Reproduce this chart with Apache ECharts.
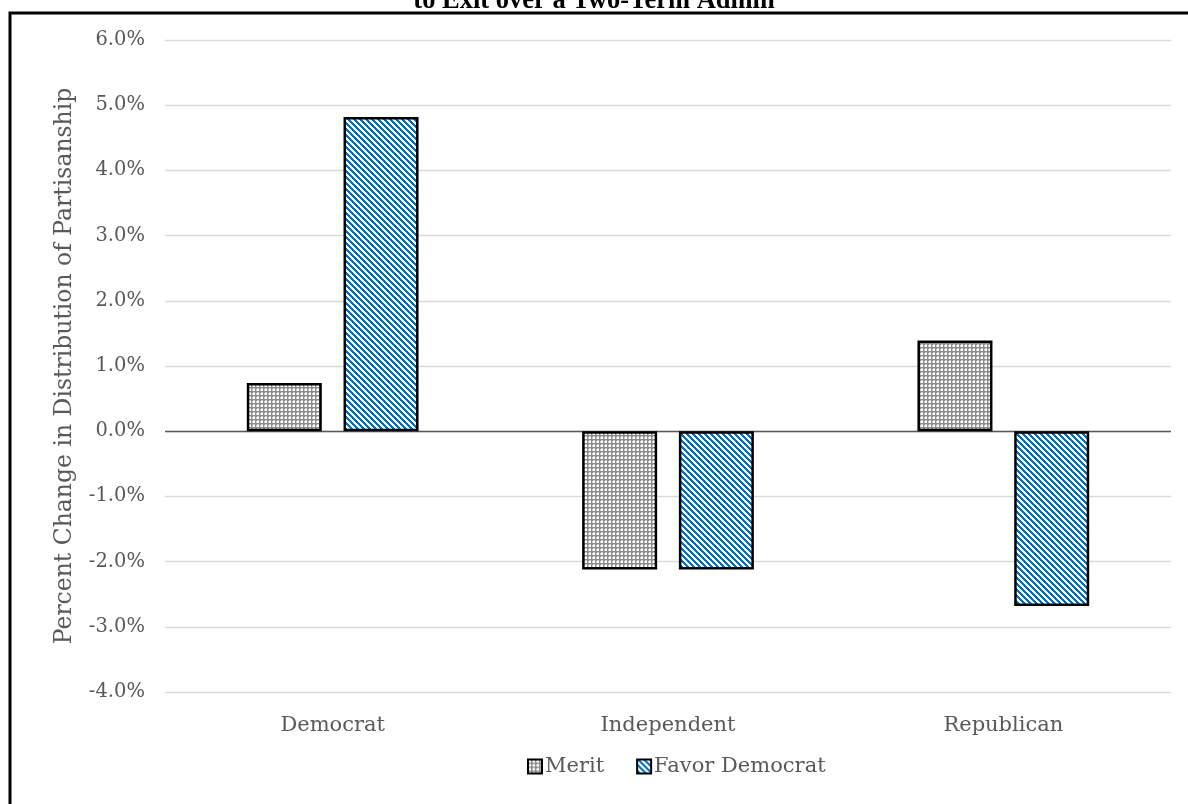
<!DOCTYPE html>
<html>
<head>
<meta charset="utf-8">
<script src="https://cdn.jsdelivr.net/npm/echarts@6/dist/echarts.min.js"></script>
<style>
  html, body { margin: 0; padding: 0; background: #fff; }
  #chart { width: 1188px; height: 804px; }
</style>
</head>
<body>
<div id="chart"></div>
<script>
// Party categories and the two policy scenarios (percent change)
const categories = ['Democrat', 'Independent', 'Republican'];
const meritValues = [0.74, -2.12, 1.39];
const favorDemocratValues = [4.82, -2.12, -2.68];
const seriesNames = ['Merit', 'Favor Democrat'];
const titleText = 'to Exit over a Two-Term Admin';
const yAxisName = 'Percent Change in Distribution of Partisanship';

const FONT = "'DejaVu Serif', 'Liberation Serif', serif";
const TEXT_GREY = '#595959';

// Fine dotted-grid fill used for the Merit bars
function gridPattern() {
  const c = document.createElement('canvas');
  c.width = 4; c.height = 4;
  const g = c.getContext('2d');
  g.fillStyle = '#8c8c8c';
  g.fillRect(0, 0, 4, 4);
  g.fillStyle = '#ffffff';
  g.fillRect(1, 1, 2, 2);
  g.fillStyle = '#cfcfcf';
  g.fillRect(1, 0, 2, 1);
  g.fillRect(0, 1, 1, 2);
  return c;
}

// Wide downward diagonal stripes used for the Favor Democrat bars
function stripePattern() {
  const n = 6;
  const c = document.createElement('canvas');
  c.width = n; c.height = n;
  const g = c.getContext('2d');
  g.fillStyle = '#ffffff';
  g.fillRect(0, 0, n, n);
  g.fillStyle = '#0070C0';
  for (let y = 0; y < n; y++) {
    for (let x = 0; x < n; x++) {
      if (((x - y) % n + n) % n < 3) g.fillRect(x, y, 1, 1);
    }
  }
  return c;
}

const meritFill = { image: gridPattern(), repeat: 'repeat' };
const favorFill = { image: stripePattern(), repeat: 'repeat' };

const chart = echarts.init(document.getElementById('chart'), null, { renderer: 'canvas' });

chart.setOption({
  animation: false,
  backgroundColor: '#ffffff',
  title: {
    text: titleText,
    left: 'center',
    top: -17,
    textStyle: { fontFamily: "'Liberation Serif', serif", fontWeight: 'bold', fontSize: 26.5, color: '#000' }
  },
  graphic: [{
    type: 'rect',
    shape: { x: 10, y: 13, width: 1300, height: 1000 },
    style: { fill: 'none', stroke: '#000', lineWidth: 3 },
    silent: true,
    z: 100
  }],
  legend: {
    bottom: 22,
    left: 522,
    icon: 'rect',
    itemWidth: 14,
    itemHeight: 14,
    itemGap: 32,
    textStyle: { fontFamily: FONT, fontSize: 21, color: TEXT_GREY, padding: [0, 0, 0, -2] },
    data: [
      { name: seriesNames[0], itemStyle: { color: meritFill, borderColor: '#000', borderWidth: 2 } },
      { name: seriesNames[1], itemStyle: { color: favorFill, borderColor: '#000', borderWidth: 2 } }
    ]
  },
  grid: { left: 165, right: 17, top: 40, bottom: 112 },
  xAxis: {
    type: 'category',
    data: categories,
    axisTick: { show: false },
    axisLine: { show: false },
    axisLabel: {
      fontFamily: FONT, fontSize: 21, color: TEXT_GREY,
      margin: 23
    }
  },
  yAxis: {
    type: 'value',
    min: -4,
    max: 6,
    interval: 1,
    name: yAxisName,
    nameLocation: 'middle',
    nameGap: 88,
    nameTextStyle: { fontFamily: FONT, fontSize: 23.5, color: TEXT_GREY },
    axisLine: { show: false },
    axisTick: { show: false },
    splitLine: { lineStyle: { color: '#d9d9d9', width: 1.3 } },
    axisLabel: {
      fontFamily: FONT, fontSize: 19.5, color: TEXT_GREY, margin: 20,
      formatter: v => v.toFixed(1) + '%'
    }
  },
  series: [
    {
      name: seriesNames[0],
      type: 'bar',
      data: meritValues,
      barWidth: 75,
      barGap: '29%',
      itemStyle: { color: meritFill, borderColor: '#000', borderWidth: 2.5 },
      markLine: {
        silent: true,
        symbol: 'none',
        label: { show: false },
        lineStyle: { color: '#595959', type: 'solid', width: 1.3 },
        data: [{ yAxis: 0 }],
        z: 1
      }
    },
    {
      name: seriesNames[1],
      type: 'bar',
      data: favorDemocratValues,
      barWidth: 75,
      itemStyle: { color: favorFill, borderColor: '#000', borderWidth: 2.5 }
    }
  ]
});
</script>
</body>
</html>
